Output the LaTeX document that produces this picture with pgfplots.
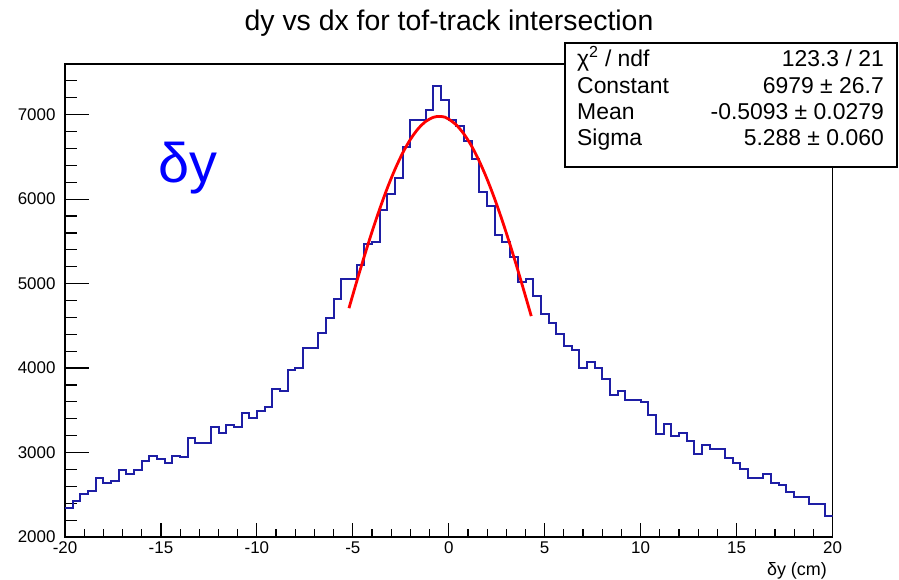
\documentclass[border=0pt]{standalone}
\usepackage{fontspec}
\setmainfont{Liberation Sans}
\usepackage{pgfplots}
\pgfplotsset{compat=1.18}
\definecolor{histblue}{RGB}{30,30,165}
\begin{document}
\begin{tikzpicture}
\path[use as bounding box] (0bp,0bp) rectangle (899bp,580bp);
\begin{axis}[
  at={(65bp,43bp)}, anchor=south west,
  width=767.5bp, height=473bp, scale only axis,
  xmin=-20, xmax=20, ymin=2000, ymax=7600,
  xtick=\empty,
  ytick={2000,3000,4000,5000,6000,7000},
  minor ytick={2000,2200,...,7600},
  ytick pos=left, tick align=inside,
  major tick length=24bp, minor tick length=12bp,
  every tick/.style={black, line width=1.2bp},
  yticklabel style={font=\fontsize{17}{17}\selectfont, anchor=east, xshift=-6bp},
  /pgf/number format/assume math mode=true,
  /pgf/number format/1000 sep={},
  axis line style={line width=1.4bp},
  clip=true,
]
\addplot[const plot mark left, histblue, line width=2bp] coordinates {
(-20,2343) (-19.6,2426) (-19.2,2513) (-18.8,2540) (-18.4,2702) (-18.0,2643)
(-17.6,2667) (-17.2,2789) (-16.8,2750) (-16.4,2789) (-16.0,2895) (-15.6,2963)
(-15.2,2919) (-14.8,2872) (-14.4,2963) (-14.0,2943) (-13.6,3176) (-13.2,3112)
(-12.8,3112) (-12.4,3302) (-12.0,3235) (-11.6,3325) (-11.2,3302) (-10.8,3467)
(-10.4,3404) (-10.0,3491) (-9.6,3535) (-9.2,3751) (-8.8,3732) (-8.4,3980)
(-8.0,4000) (-7.6,4237) (-7.2,4237) (-6.8,4414) (-6.4,4596) (-6.0,4812)
(-5.6,5050) (-5.2,5050) (-4.8,5220) (-4.4,5465) (-4.0,5490) (-3.6,5872)
(-3.2,6066) (-2.8,6253) (-2.4,6615) (-2.0,6940) (-1.6,6940) (-1.2,7052)
(-0.8,7338) (-0.4,7171) (0.0,6940) (0.4,6871) (0.8,6686) (1.2,6470)
(1.6,6085) (2.0,5915) (2.4,5572) (2.8,5493) (3.2,5320) (3.6,5020)
(4.0,5050) (4.4,4855) (4.8,4640) (5.2,4535) (5.6,4400) (6.0,4260)
(6.4,4213) (6.8,3998) (7.2,4071) (7.6,4004) (8.0,3874) (8.4,3684)
(8.8,3728) (9.2,3625) (9.6,3625) (10.0,3598) (10.4,3448) (10.8,3215)
(11.2,3341) (11.6,3195) (12.0,3235) (12.4,3131) (12.8,2987) (13.2,3086)
(13.6,3047) (14.0,3047) (14.4,2941) (14.8,2882) (15.2,2810) (15.6,2704)
(16.0,2704) (16.4,2743) (16.8,2640) (17.2,2621) (17.6,2533) (18.0,2474)
(18.4,2474) (18.8,2387) (19.2,2387) (19.6,2245) (20.0,2245)
};
\addplot[red, line width=2.8bp, smooth] coordinates {
(-5.2,4709) (-4.8,5022) (-4.4,5324) (-4.0,5613) (-3.6,5883) (-3.2,6132)
(-2.8,6354) (-2.4,6547) (-2.0,6707) (-1.6,6832) (-1.2,6920) (-0.8,6969)
(-0.5,6979) (-0.2,6971) (0.0,6947) (0.4,6877) (0.8,6768) (1.2,6624)
(1.6,6445) (2.0,6236) (2.4,5999) (2.8,5738) (3.2,5457) (3.6,5160)
(4.0,4851) (4.3,4615)
};
\end{axis}
\begin{axis}[
  at={(65bp,43bp)}, anchor=south west,
  width=767.5bp, height=473bp, scale only axis,
  xmin=-20, xmax=20, ymin=2000, ymax=7600,
  ytick=\empty,
  xtick={-20,-15,...,20},
  minor xtick={-20,-19,...,20},
  xtick pos=bottom, tick align=inside,
  major tick length=14bp, minor tick length=8bp,
  every tick/.style={black, line width=1.2bp},
  xticklabel style={font=\fontsize{17}{17}\selectfont, yshift=-1bp},
  /pgf/number format/assume math mode=true,
  axis line style={draw=none},
]
\end{axis}
\node[anchor=base, font=\fontsize{28.5}{30}\selectfont] at (449bp,549bp) {dy vs dx for tof-track intersection};
\node[anchor=base east, font=\fontsize{18}{18}\selectfont, inner sep=0pt] at (827bp,5bp) {δy (cm)};
\node[anchor=base west, font=\fontsize{56}{58}\selectfont, text=blue, inner sep=0pt] at (158bp,397bp) {δy};
\draw[fill=white, line width=1.2bp] (565bp,413bp) rectangle (897bp,537bp);
\begin{scope}[every node/.style={font=\fontsize{23}{23}\selectfont, inner sep=0pt}]
\node[anchor=base west] at (577bp,513bp) {χ\textsuperscript{2} / ndf};
\node[anchor=base east] at (884bp,513bp) {123.3 / 21};
\node[anchor=base west] at (577bp,486bp) {Constant};
\node[anchor=base east] at (884bp,486bp) {6979 ± 26.7};
\node[anchor=base west] at (577bp,460bp) {Mean};
\node[anchor=base east] at (884bp,460bp) {-0.5093 ± 0.0279};
\node[anchor=base west] at (577bp,434bp) {Sigma};
\node[anchor=base east] at (884bp,434bp) {5.288 ± 0.060};
\end{scope}
\end{tikzpicture}
\end{document}
